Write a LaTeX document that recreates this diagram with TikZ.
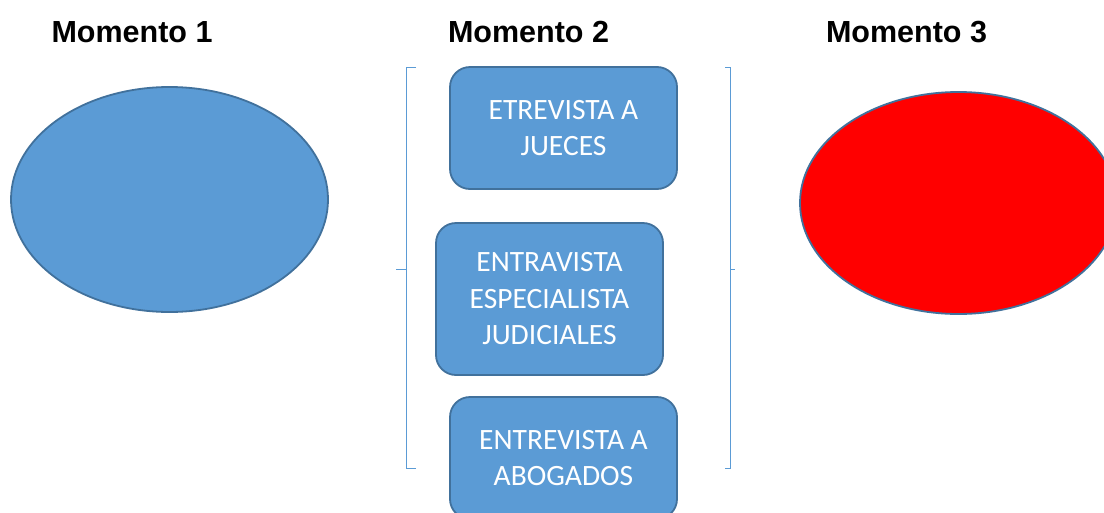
\documentclass[tikz,border=0pt]{standalone}
\usepackage{fontspec}
\setmainfont{Carlito}
\newfontfamily\titlefont{Liberation Sans}
\usetikzlibrary{shapes.geometric}
\definecolor{accfill}{HTML}{5B9BD5}
\definecolor{accline}{HTML}{41719C}
\definecolor{bracecol}{HTML}{5B9BD5}
\begin{document}
\begin{tikzpicture}[x=1pt,y=-1pt,
  titletext/.style={anchor=base,inner sep=0pt,font=\titlefont\bfseries\fontsize{30.5}{36}\selectfont},
  oval/.style={ellipse,draw=accline,line width=1.8pt,inner sep=0pt},
  stepbox/.style={draw=accline,fill=accfill,line width=1.8pt,rounded corners=20pt,
    text=white,align=center,inner sep=0pt,font=\fontsize{29.5}{36.5}\selectfont},
  bracket/.style={draw=bracecol,line width=0.9pt}]
\useasboundingbox (0,0) rectangle (1104,512);
\clip (0,0) rectangle (1104,512);
\fill[white] (0,0) rectangle (1104,512);
% titles
\node[titletext] (title1) at (132,42) {Momento 1};
\node[titletext] (title2) at (528.5,42) {Momento 2};
\node[titletext] (title3) at (906.5,42) {Momento 3};
% ellipses
\node[oval,fill=accfill,minimum width=317pt,minimum height=225pt] (e1) at (169.5,199.5) {};
\node[oval,fill=red,minimum width=317pt,minimum height=222pt] (e3) at (958.5,203) {};
% brackets
\draw[bracket] (416,67) -- (406,67) -- (406,468) -- (416,468);
\draw[bracket] (406,269) -- (396,269);
\draw[bracket] (725,67) -- (730,67) -- (730,468) -- (725,468);
\draw[bracket] (730,269) -- (735,269);
% boxes
\node[stepbox,minimum width=227pt,minimum height=122pt] (b1) at (563.5,128) {ETREVISTA A\\JUECES};
\node[stepbox,minimum width=227pt,minimum height=152pt] (b2) at (549.5,299) {ENTRAVISTA\\ESPECIALISTA\\JUDICIALES};
\node[stepbox,minimum width=227pt,minimum height=122pt] (b3) at (563.5,458) {ENTREVISTA A\\ABOGADOS};
\end{tikzpicture}
\end{document}
